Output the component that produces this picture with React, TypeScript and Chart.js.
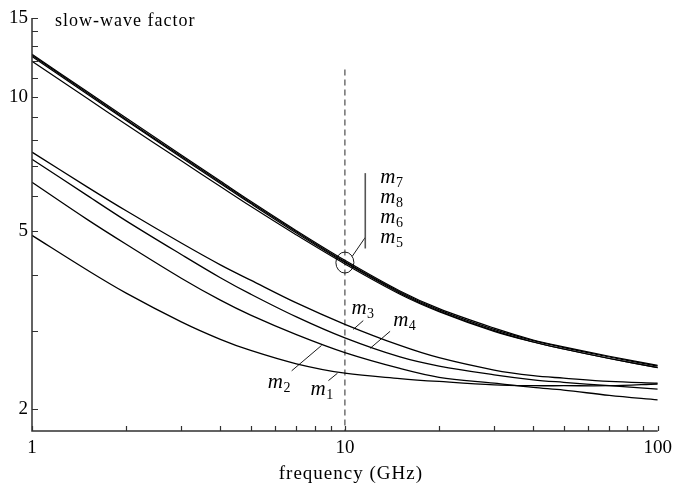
import React, { useEffect, useRef } from 'react';
import { Chart, registerables } from 'chart.js';

Chart.register(...registerables);

// ---- data ----
const frequencies = [1, 1.5, 2, 3, 4, 5, 7, 10, 15, 20, 30, 40, 50, 70, 100];
const m1 = [4.9, 4.1, 3.64, 3.14, 2.87, 2.71, 2.53, 2.41, 2.345, 2.31, 2.27, 2.26, 2.26, 2.26, 2.28];
const m2 = [6.44, 5.32, 4.68, 3.93, 3.51, 3.25, 2.94, 2.68, 2.47, 2.36, 2.29, 2.24, 2.21, 2.15, 2.1];
const m3 = [7.52, 6.29, 5.56, 4.71, 4.21, 3.89, 3.46, 3.1, 2.78, 2.61, 2.45, 2.38, 2.35, 2.31, 2.29];
const m4 = [7.25, 6.02, 5.28, 4.44, 3.94, 3.62, 3.22, 2.89, 2.62, 2.5, 2.39, 2.33, 2.3, 2.26, 2.22];
const m5 = [12.0, 9.92, 8.67, 7.19, 6.3, 5.69, 4.91, 4.23, 3.62, 3.31, 2.99, 2.83, 2.73, 2.6, 2.48];
const m6 = [12.3, 10.15, 8.85, 7.32, 6.4, 5.77, 4.96, 4.26, 3.64, 3.32, 3.0, 2.83, 2.73, 2.6, 2.48];
const m7 = [12.45, 10.27, 8.96, 7.41, 6.48, 5.84, 5.02, 4.31, 3.68, 3.36, 3.04, 2.86, 2.76, 2.63, 2.51];
const m8 = [12.38, 10.21, 8.9, 7.36, 6.44, 5.8, 4.99, 4.28, 3.66, 3.34, 3.02, 2.85, 2.75, 2.62, 2.5];

const xTickValues = [1, 2, 3, 4, 5, 6, 7, 8, 9, 10, 20, 30, 40, 50, 60, 70, 80, 90, 100];
const xTickLabels = [1, 10, 100];
const yTickValues = [2, 3, 4, 5, 6, 7, 8, 9, 10, 11, 12, 13, 14, 15];
const yTickLabels = [2, 5, 10, 15];
const xRange = [1, 100];
const yRange = [1.79, 15];

const yTitle = 'slow-wave factor';
const xTitle = 'frequency (GHz)';

// marker line at 10 GHz
const markerFreq = 10;
const markerTop = 11.5;

// annotation anchors in data coordinates [freq, value]
const groupEllipse = [10, 4.26];
const groupPointer = [[10.56, 4.4], [11.62, 4.85]];
const groupBar = [[11.62, 6.75], [11.62, 4.58]];
const groupLabels = [
  { sub: '7', at: [12.97, 6.57] },
  { sub: '8', at: [12.97, 5.93] },
  { sub: '6', at: [12.97, 5.35] },
  { sub: '5', at: [12.97, 4.83] },
];
const singleLabels = [
  { sub: '3', at: [10.49, 3.35], from: [11.45, 3.16], to: [10.64, 3.02] },
  { sub: '4', at: [14.27, 3.16], from: [13.95, 2.99], to: [12.05, 2.74] },
  { sub: '2', at: [5.67, 2.29], from: [6.76, 2.44], to: [8.42, 2.78] },
  { sub: '1', at: [7.77, 2.21], from: [8.86, 2.32], to: [9.47, 2.41] },
];

const series = [
  { name: 'm1', values: m1, width: 1.3 },
  { name: 'm2', values: m2, width: 1.3 },
  { name: 'm3', values: m3, width: 1.3 },
  { name: 'm4', values: m4, width: 1.3 },
  { name: 'm5', values: m5, width: 1.2 },
  { name: 'm6', values: m6, width: 1.2 },
  { name: 'm7', values: m7, width: 1.2 },
  { name: 'm8', values: m8, width: 1.2 },
];

const SERIF = '"Liberation Serif", "Times New Roman", serif';

function drawM(ctx: CanvasRenderingContext2D, sub: string, x: number, yMid: number) {
  ctx.save();
  ctx.fillStyle = '#000';
  ctx.textAlign = 'left';
  ctx.textBaseline = 'alphabetic';
  ctx.font = `italic 21px ${SERIF}`;
  const base = yMid + 5;
  ctx.fillText('m', x, base);
  const w = ctx.measureText('m').width;
  ctx.font = `14px ${SERIF}`;
  ctx.fillText(sub, x + w + 0.5, base + 4);
  ctx.restore();
}

const decorPlugin = {
  id: 'decor',
  beforeDatasetsDraw(chart: any) {
    const { ctx, chartArea, scales } = chart;
    const x = scales.x, y = scales.y;
    ctx.save();
    ctx.strokeStyle = '#707070';
    ctx.lineWidth = 1.5;
    ctx.setLineDash([6, 4]);
    const px = x.getPixelForValue(markerFreq);
    ctx.beginPath();
    ctx.moveTo(px, y.getPixelForValue(markerTop));
    ctx.lineTo(px, chartArea.bottom);
    ctx.stroke();
    ctx.restore();
  },
  afterDraw(chart: any) {
    const { ctx, chartArea, scales } = chart;
    const x = scales.x, y = scales.y;
    const P = (p: number[]) => [x.getPixelForValue(p[0]), y.getPixelForValue(p[1])];

    ctx.save();
    // axes
    ctx.strokeStyle = '#303030';
    ctx.lineWidth = 1.5;
    ctx.beginPath();
    ctx.moveTo(chartArea.left, chartArea.top);
    ctx.lineTo(chartArea.left, chartArea.bottom);
    ctx.lineTo(chartArea.right, chartArea.bottom);
    ctx.stroke();
    // inward ticks
    ctx.lineWidth = 1.2;
    ctx.beginPath();
    for (const t of y.ticks) {
      const py = Math.round(y.getPixelForValue(t.value)) + 0.5;
      ctx.moveTo(chartArea.left, py);
      ctx.lineTo(chartArea.left + 6, py);
    }
    for (const t of x.ticks) {
      const pxv = Math.round(x.getPixelForValue(t.value)) + 0.5;
      ctx.moveTo(pxv, chartArea.bottom);
      ctx.lineTo(pxv, chartArea.bottom - 5);
    }
    ctx.stroke();

    // titles
    ctx.fillStyle = '#000';
    (ctx as any).letterSpacing = '1px';
    ctx.font = `18px ${SERIF}`;
    ctx.textAlign = 'left';
    ctx.textBaseline = 'alphabetic';
    ctx.fillText(yTitle, chartArea.left + 23, chartArea.top + 8);
    ctx.font = `19px ${SERIF}`;
    ctx.textAlign = 'center';
    ctx.fillText(xTitle, (chartArea.left + chartArea.right) / 2 + 6, chartArea.bottom + 48);
    (ctx as any).letterSpacing = '0px';

    // group annotation
    ctx.strokeStyle = '#000';
    ctx.lineWidth = 0.9;
    const [ex, ey] = P(groupEllipse);
    ctx.beginPath();
    ctx.ellipse(ex, ey, 9, 10.5, 0, 0, Math.PI * 2);
    ctx.stroke();
    const [a0x, a0y] = P(groupPointer[0]);
    const [a1x, a1y] = P(groupPointer[1]);
    ctx.beginPath();
    ctx.moveTo(a0x, a0y);
    ctx.lineTo(a1x, a1y);
    ctx.stroke();
    ctx.strokeStyle = '#555';
    ctx.lineWidth = 1.6;
    const [b0x, b0y] = P(groupBar[0]);
    const [b1x, b1y] = P(groupBar[1]);
    ctx.beginPath();
    ctx.moveTo(b0x, b0y);
    ctx.lineTo(b1x, b1y);
    ctx.stroke();
    for (const g of groupLabels) {
      const [lx, ly] = P(g.at);
      drawM(ctx, g.sub, lx, ly);
    }
    // single annotations
    ctx.strokeStyle = '#000';
    ctx.lineWidth = 0.9;
    for (const s of singleLabels) {
      const [fx, fy] = P(s.from);
      const [tx, ty] = P(s.to);
      ctx.beginPath();
      ctx.moveTo(fx, fy);
      ctx.lineTo(tx, ty);
      ctx.stroke();
      const [lx, ly] = P(s.at);
      drawM(ctx, s.sub, lx, ly);
    }
    ctx.restore();
  },
};

export default function App() {
  const canvasRef = useRef<HTMLCanvasElement | null>(null);

  useEffect(() => {
    const canvas = canvasRef.current;
    if (!canvas) return;
    const chart = new Chart(canvas, {
      type: 'line',
      data: {
        datasets: series.map((s) => ({
          label: s.name,
          data: frequencies.map((f, i) => ({ x: f, y: s.values[i] })),
          borderColor: '#000',
          borderWidth: s.width,
          pointRadius: 0,
          fill: false,
          tension: 0.35,
        })),
      },
      options: {
        responsive: false,
        animation: false,
        devicePixelRatio: 1,
        layout: { padding: { top: 18, right: 17, left: 0, bottom: 0 } },
        plugins: { legend: { display: false }, tooltip: { enabled: false }, title: { display: false } },
        scales: {
          x: {
            type: 'logarithmic',
            min: xRange[0],
            max: xRange[1],
            grid: { display: false, drawTicks: false },
            border: { display: false },
            afterBuildTicks: (scale: any) => {
              scale.ticks = xTickValues.map((v) => ({ value: v }));
            },
            afterFit: (scale: any) => {
              scale.height = 55;
            },
            ticks: {
              autoSkip: false,
              maxRotation: 0,
              padding: 6,
              color: '#000',
              font: { family: SERIF, size: 19 },
              callback: (v: any) => (xTickLabels.includes(Number(v)) ? String(v) : ''),
            },
          },
          y: {
            type: 'logarithmic',
            min: yRange[0],
            max: yRange[1],
            grid: { display: false, drawTicks: false },
            border: { display: false },
            afterBuildTicks: (scale: any) => {
              scale.ticks = yTickValues.map((v) => ({ value: v }));
            },
            afterFit: (scale: any) => {
              scale.width = 32;
            },
            ticks: {
              autoSkip: false,
              padding: 4,
              color: '#000',
              font: { family: SERIF, size: 19 },
              callback: (v: any) => (yTickLabels.includes(Number(v)) ? String(v) : ''),
            },
          },
        },
      },
      plugins: [decorPlugin],
    });
    return () => chart.destroy();
  }, []);

  return (
    <div style={{ position: 'fixed', left: 0, top: 0, width: 678, height: 486, background: '#fff' }}>
      <canvas ref={canvasRef} width={678} height={486} style={{ width: 678, height: 486, display: 'block' }} />
    </div>
  );
}
